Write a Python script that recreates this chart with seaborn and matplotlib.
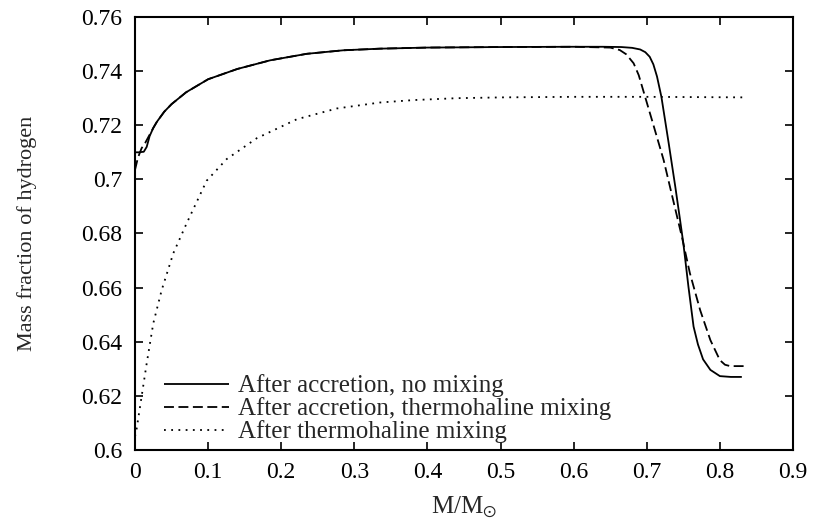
import numpy as np
import pandas as pd
import matplotlib
matplotlib.use("Agg")
import matplotlib.pyplot as plt
from matplotlib.ticker import FuncFormatter
import seaborn as sns

# ---- data ----
solid_x = [0.0, 0.005, 0.012, 0.016, 0.020, 0.025, 0.030, 0.040, 0.050, 0.070, 0.100,
           0.140, 0.185, 0.235, 0.285, 0.335, 0.40, 0.50, 0.60, 0.64, 0.665, 0.680,
           0.691, 0.698, 0.704, 0.709, 0.714, 0.720, 0.730, 0.739, 0.745, 0.750,
           0.757, 0.764, 0.770, 0.777, 0.787, 0.800, 0.815, 0.830]
solid_y = [0.7100, 0.7100, 0.7102, 0.7120, 0.7160, 0.7190, 0.7213, 0.7250, 0.7278, 0.7322, 0.7370,
           0.7408, 0.7440, 0.7464, 0.7477, 0.7483, 0.7487, 0.7489, 0.7490, 0.7490, 0.7489, 0.7486,
           0.7480, 0.7470, 0.7453, 0.7425, 0.7380, 0.7305, 0.7133, 0.6973, 0.6860, 0.6764,
           0.6603, 0.6456, 0.6390, 0.6335, 0.6296, 0.6273, 0.6270, 0.6270]

dashed_x = [0.0, 0.004, 0.009, 0.014, 0.020, 0.025, 0.030, 0.040, 0.050, 0.070, 0.100,
            0.140, 0.185, 0.235, 0.285, 0.335, 0.40, 0.50, 0.60, 0.65, 0.663, 0.672,
            0.682, 0.689, 0.695, 0.707, 0.723, 0.736, 0.748, 0.759, 0.773, 0.787,
            0.800, 0.807, 0.814, 0.833]
dashed_y = [0.7035, 0.7080, 0.7115, 0.7135, 0.7165, 0.7190, 0.7213, 0.7250, 0.7278, 0.7322, 0.7370,
            0.7408, 0.7440, 0.7464, 0.7477, 0.7483, 0.7487, 0.7489, 0.7490, 0.7487, 0.7478, 0.7462,
            0.7429, 0.7385, 0.7330, 0.7220, 0.7072, 0.6924, 0.6788, 0.6653, 0.6517, 0.6406,
            0.6332, 0.6315, 0.6310, 0.6310]

dotted_x = [0.0, 0.002, 0.009, 0.016, 0.025, 0.0365, 0.0524, 0.0707, 0.098, 0.1254,
            0.1665, 0.2212, 0.276, 0.335, 0.381, 0.44, 0.503, 0.60, 0.70, 0.833]
dotted_y = [0.6050, 0.6074, 0.6197, 0.6320, 0.6468, 0.6591, 0.6727, 0.6838, 0.6995, 0.7075,
            0.7152, 0.7222, 0.7262, 0.7284, 0.7293, 0.7300, 0.7303, 0.7305, 0.7305, 0.7303]

labels = ["After accretion, no mixing",
          "After accretion, thermohaline mixing",
          "After thermohaline mixing"]

x_ticks = [0, 0.1, 0.2, 0.3, 0.4, 0.5, 0.6, 0.7, 0.8, 0.9]
y_ticks = [0.6, 0.62, 0.64, 0.66, 0.68, 0.7, 0.72, 0.74, 0.76]

# ---- style ----
sns.set_style("ticks")
plt.rcParams["font.family"] = ["Liberation Serif", "DejaVu Serif"]
plt.rcParams["mathtext.fontset"] = "stix"

fig = plt.figure(figsize=(8.15, 5.25), dpi=100)
ax = fig.add_axes([135 / 815, 1 - 450 / 525, 658 / 815, 433 / 525])

df = pd.concat([
    pd.DataFrame({"x": solid_x, "y": solid_y, "s": labels[0]}),
    pd.DataFrame({"x": dashed_x, "y": dashed_y, "s": labels[1]}),
    pd.DataFrame({"x": dotted_x, "y": dotted_y, "s": labels[2]}),
])

styles = [(0, ()), (0, (5.5, 2.5)), (0, (1, 3))]
for lab, ls in zip(labels, styles):
    sub = df[df["s"] == lab]
    sns.lineplot(data=sub, x="x", y="y", ax=ax, color="black", lw=1.3,
                 linestyle=ls, sort=False, estimator=None, label=lab)

ax.set_xlim(0, 0.9)
ax.set_ylim(0.6, 0.76)
ax.set_xticks(x_ticks)
ax.set_yticks(y_ticks)
fmt = FuncFormatter(lambda v, p: "%g" % round(v, 4))
ax.xaxis.set_major_formatter(fmt)
ax.yaxis.set_major_formatter(fmt)
ax.tick_params(direction="in", length=6, width=1.2, top=True, right=True,
               labelsize=17, pad=9, colors="black")
for sp in ax.spines.values():
    sp.set_linewidth(1.5)
    sp.set_color("black")

ax.set_xlabel(r"M/M$_{\odot}$", fontsize=18, labelpad=8)
ax.set_ylabel("Mass fraction of hydrogen", fontsize=16, labelpad=32)

leg = ax.legend(loc="lower left", bbox_to_anchor=(0.0175, -0.025), frameon=False,
                fontsize=18, handlelength=2.6, handletextpad=0.35,
                labelspacing=0.0, borderpad=0.2)

fig.savefig("out.png", dpi=100)
